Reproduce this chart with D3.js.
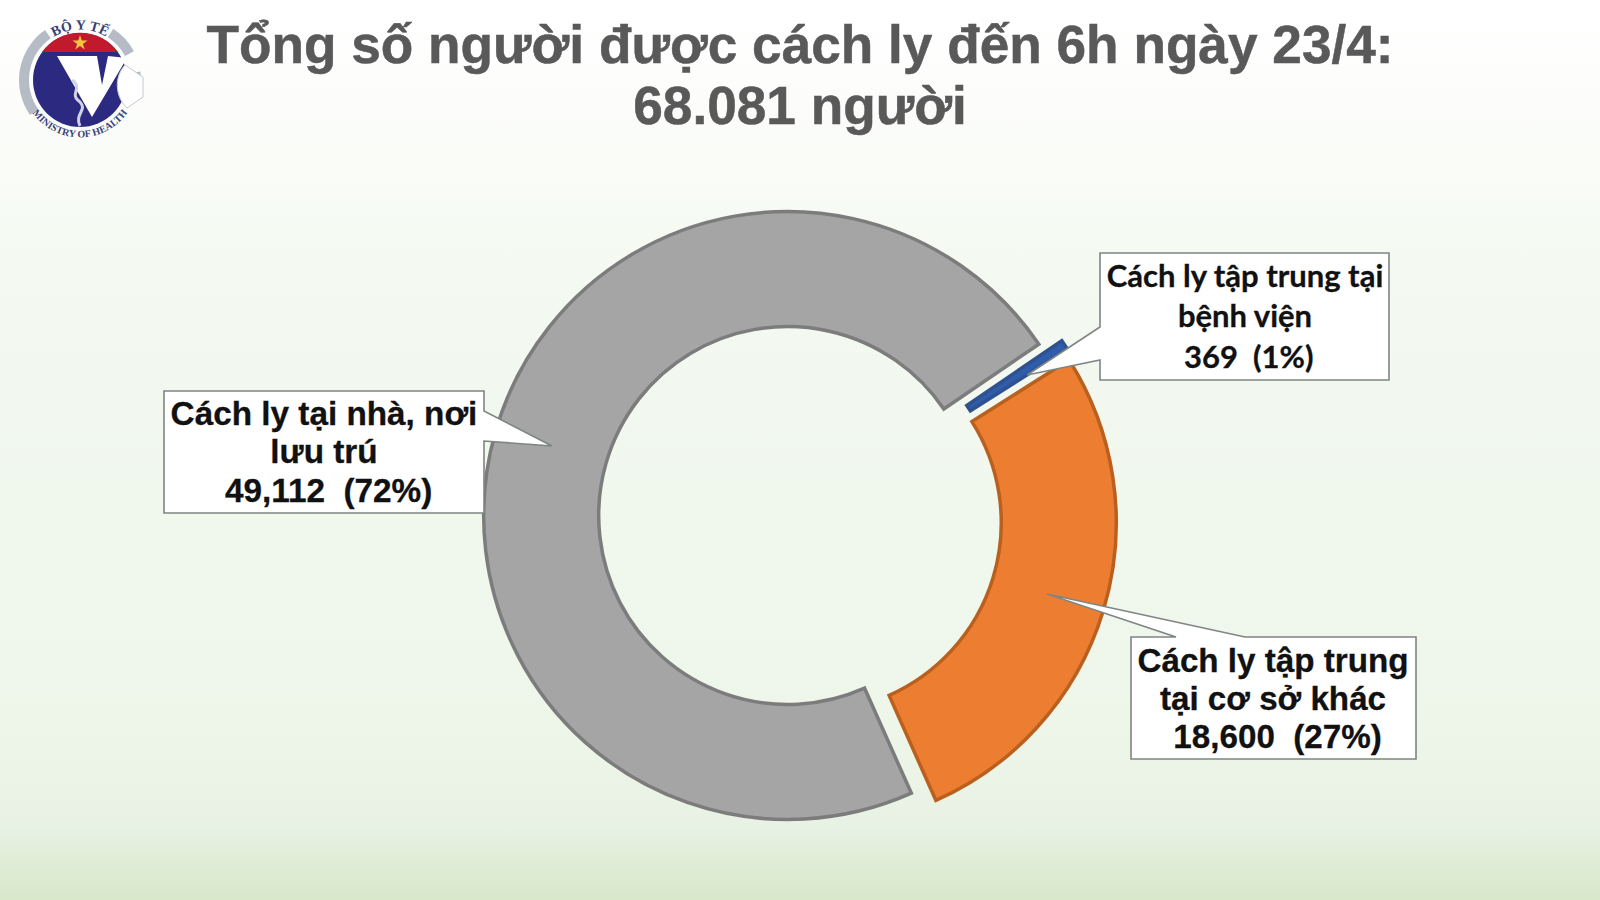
<!DOCTYPE html>
<html>
<head>
<meta charset="utf-8">
<title>Tổng số người được cách ly</title>
<script src="https://cdn.jsdelivr.net/npm/d3@7"></script>
<style>
    html, body { margin: 0; padding: 0; background: #fff; }
    svg { display: block; }
</style>
</head>
<body>
<script>
(function () {
    "use strict";

    var titleLines = ["Tổng số người được cách ly đến 6h ngày 23/4:", "68.081 người"];
    var categories = ["Cách ly tại nhà, nơi lưu trú", "Cách ly tập trung tại bệnh viện", "Cách ly tập trung tại cơ sở khác"];
    var values = [49112, 369, 18600];
    var fills = ["#a5a5a5", "#2f5cab", "#ed7d31"];
    var strokes = ["#7c7c7c", "#2f528f", "#b9601f"];
    var calloutLines = [
        ["Cách ly tại nhà, nơi", "lưu trú", " 49,112  (72%)"],
        ["Cách ly tập trung tại", "bệnh viện", " 369  (1%)"],
        ["Cách ly tập trung", "tại cơ sở khác", " 18,600  (27%)"]
    ];

    var width = 1600, height = 900;
    var svg = d3.select("body").append("svg")
            .attr("width", width)
            .attr("height", height);

    var gradient = svg.append("defs").append("linearGradient")
            .attr("id", "bg")
            .attr("x1", 0).attr("y1", 0).attr("x2", 0).attr("y2", 1);
    [[0, "#ffffff"], [0.12, "#fcfdfb"], [0.3, "#f4f9f1"], [0.8, "#eef6ea"], [0.92, "#e8f2e4"], [0.96, "#dfecd6"], [1, "#d9e8ca"]].forEach(function (s) {
        gradient.append("stop").attr("offset", s[0]).attr("stop-color", s[1]);
    });
    svg.append("rect").attr("width", width).attr("height", height).attr("fill", "url(#bg)");

    // title
    svg.append("g").selectAll("text")
        .data(titleLines)
        .enter().append("text")
        .attr("x", 800)
        .attr("y", function (_, i) { return 63 + i * 61; })
        .attr("text-anchor", "middle")
        .attr("font-family", "Liberation Sans")
        .attr("font-weight", "bold")
        .attr("font-size", 53.2)
        .attr("fill", "#595959")
        .attr("stroke", "#595959")
        .attr("stroke-width", 0.5)
        .text(function (d) { return d; });

    // donut, every slice pulled out a little from the common centre
    var center = [800, 519], explode = 12.8;
    var startAngle = 156 * Math.PI / 180;
    var pie = d3.pie().sort(null).startAngle(startAngle).endAngle(startAngle + 2 * Math.PI);
    var arc = d3.arc().innerRadius(189).outerRadius(304);

    svg.append("g")
        .attr("transform", "translate(" + center + ")")
        .selectAll("path")
        .data(pie(values))
        .enter().append("path")
        .attr("d", arc)
        .attr("transform", function (d) {
            var mid = (d.startAngle + d.endAngle) / 2;
            return "translate(" + explode * Math.sin(mid) + "," + (-explode * Math.cos(mid)) + ")";
        })
        .attr("fill", function (_, i) { return fills[i]; })
        .attr("stroke", function (_, i) { return strokes[i]; })
        .attr("stroke-width", 3.5)
        .attr("stroke-linejoin", "miter")
        .append("title").text(function (_, i) { return categories[i]; });

    // callouts: box and pointer wedge
    var callouts = [
        {box: [164, 391, 484, 513], tip: [552, 446], base: [[484, 411], [484, 441]], font: "Liberation Sans", size: 33.3, cx: 324, y: [425, 463, 502]},
        {box: [1100, 253, 1389, 380], tip: [1027, 375], base: [[1100, 360], [1100, 327]], font: "Lato", size: 31, cx: 1245, y: [287, 327, 368]},
        {box: [1131, 637, 1416, 759], tip: [1047, 594], base: [[1176, 637], [1245, 637]], font: "Liberation Sans", size: 33.2, cx: 1273, y: [672, 710, 748]}
    ];

    function outline(c) {
        var b = c.box, pts = [[b[0], b[1]], [b[2], b[1]], [b[2], b[3]], [b[0], b[3]]];
        if (c.base[0][0] === b[2]) {
            pts.splice(2, 0, c.base[0], c.tip, c.base[1]);
        } else if (c.base[0][0] === b[0]) {
            pts.splice(4, 0, c.base[0], c.tip, c.base[1]);
        } else {
            pts.splice(1, 0, c.base[0], c.tip, c.base[1]);
        }
        return d3.line()(pts) + "Z";
    }

    var groups = svg.append("g").selectAll("g")
            .data(callouts)
            .enter().append("g");

    groups.append("path")
        .attr("d", outline)
        .attr("fill", "#fff")
        .attr("stroke", "#7f8583")
        .attr("stroke-width", 1.6);

    groups.each(function (c, i) {
        d3.select(this).selectAll("text")
            .data(calloutLines[i])
            .enter().append("text")
            .attr("x", c.cx)
            .attr("y", function (_, j) { return c.y[j]; })
            .attr("text-anchor", "middle")
            .attr("font-family", c.font)
            .attr("font-weight", "bold")
            .attr("font-size", c.size)
            .attr("fill", "#111")
            .attr("stroke", "#111")
            .attr("stroke-width", 0.3)
            .style("white-space", "pre")
            .text(function (d) { return d; });
    });

    // ministry logo
    var logo = svg.append("g").attr("transform", "translate(80,80)");
    var ring = d3.arc().innerRadius(51).outerRadius(61);
    [[-125, -35], [33, 62], [82, 102]].forEach(function (a) {
        logo.append("path")
            .attr("d", ring({startAngle: a[0] * Math.PI / 180, endAngle: a[1] * Math.PI / 180}))
            .attr("fill", "#b6bcc6");
    });
    logo.append("circle").attr("r", 47).attr("fill", "#2c2a80");
    logo.append("path").attr("d", "M-38,-28 A47,47 0 0 1 38,-28 Z").attr("fill", "#c11a2d");
    logo.append("path")
        .attr("d", d3.symbol().type(d3.symbolStar).size(70)())
        .attr("transform", "translate(0,-37)")
        .attr("fill", "#f5c542");
    logo.append("path").attr("d", "M-23,-24 L17,-24 L22,5 L28,-24 L47,-22 L12,37 Z").attr("fill", "#fff");
    logo.append("path").attr("d", "M45,-15 L63,-3 L63,17 L47,28 C36,18 33,-2 45,-15 Z")
        .attr("fill", "#fff").attr("stroke", "#c3c8d4").attr("stroke-width", 1);
    logo.append("path").attr("d", "M-8,0 C4,8 -12,14 0,22 C8,30 -6,34 0,46").attr("fill", "none")
        .attr("stroke", "#cfd3e4").attr("stroke-width", 3);

    var defs = svg.select("defs");
    defs.append("path").attr("id", "logo-top").attr("d", "M-38,-33 A50,50 0 0 1 38,-33");
    defs.append("path").attr("id", "logo-bottom").attr("d", "M-48,32 A58,58 0 0 0 48,32");
    logo.append("text").attr("font-family", "Liberation Serif").attr("font-size", 14).attr("font-weight", "bold").attr("fill", "#3a3f78")
        .append("textPath").attr("href", "#logo-top").attr("startOffset", "50%").attr("text-anchor", "middle").text("BỘ Y TẾ");
    logo.append("text").attr("font-family", "Liberation Serif").attr("font-size", 10).attr("font-weight", "bold").attr("fill", "#3a3f78")
        .append("textPath").attr("href", "#logo-bottom").attr("startOffset", "50%").attr("text-anchor", "middle").text("MINISTRY OF HEALTH");
})();
</script>
</body>
</html>
